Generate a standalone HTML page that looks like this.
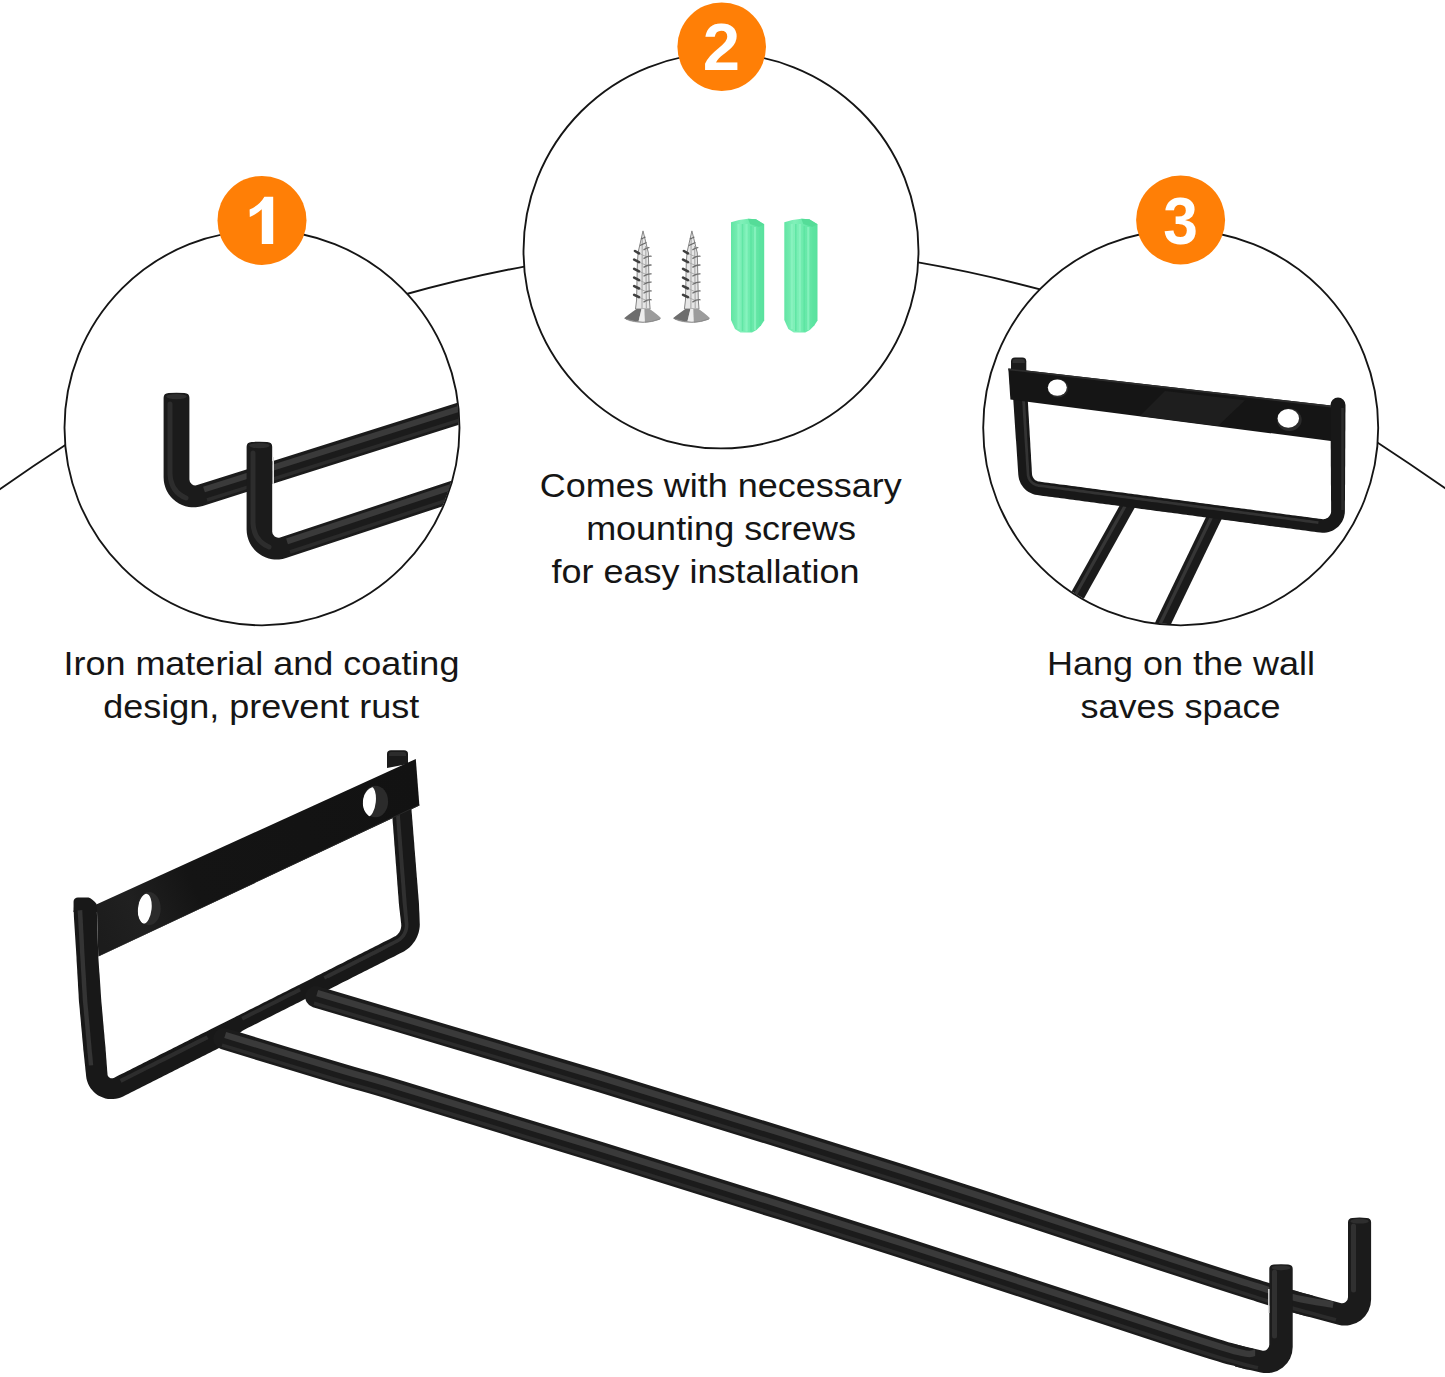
<!DOCTYPE html>
<html><head><meta charset="utf-8">
<style>
html,body{margin:0;padding:0;background:#fff;}
body{width:1445px;height:1377px;overflow:hidden;font-family:"Liberation Sans",sans-serif;}
svg{display:block;position:absolute;left:0;top:0;}
text{font-family:"Liberation Sans",sans-serif;}
.t{font-size:36px;fill:#151515;text-anchor:middle;}
.n{font-size:67px;font-weight:bold;fill:#fff;text-anchor:middle;}
</style></head><body>
<svg width="1445" height="1377" viewBox="0 0 1445 1377">
<defs>
<clipPath id="c1"><circle cx="262" cy="427.8" r="196.7"/></clipPath>
<clipPath id="c3"><circle cx="1180.7" cy="427.8" r="196.7"/></clipPath>
<clipPath id="hR"><ellipse cx="375.5" cy="801.5" rx="12.6" ry="15.8"/></clipPath>
<clipPath id="hL"><ellipse cx="149.1" cy="908.6" rx="11.6" ry="16.6"/></clipPath>
<linearGradient id="barg" gradientUnits="userSpaceOnUse" x1="97" y1="930" x2="418" y2="782"><stop offset="0" stop-color="#1c1c1c"/><stop offset=".12" stop-color="#202020"/><stop offset=".3" stop-color="#141414"/><stop offset="1" stop-color="#121212"/></linearGradient>
<linearGradient id="scr" x1="0" x2="1" y1="0" y2="0"><stop offset="0" stop-color="#777"/><stop offset=".45" stop-color="#e8e8e8"/><stop offset="1" stop-color="#666"/></linearGradient>
<linearGradient id="grn" x1="0" x2="1" y1="0" y2="0"><stop offset="0" stop-color="#62e5a4"/><stop offset=".3" stop-color="#80f0b9"/><stop offset=".6" stop-color="#6beaab"/><stop offset="1" stop-color="#58e19d"/></linearGradient>
</defs>
<rect width="1445" height="1377" fill="#fff"/>

<!-- big connecting arc -->
<path d="M-3 491.2 Q32 466.5 68 443.2 M403 295 Q465.3 277.5 528 265.8 M914 261.7 Q979.3 273 1043 290.2 M1374 440.2 Q1412 465 1448 490.3" fill="none" stroke="#151515" stroke-width="1.85"/>

<!-- SECTION: circles -->
<circle cx="262" cy="427.8" r="197.5" fill="#fff" stroke="#151515" stroke-width="1.85"/>
<circle cx="721" cy="250.9" r="197.5" fill="#fff" stroke="#151515" stroke-width="1.85"/>
<circle cx="1180.7" cy="427.8" r="197.5" fill="#fff" stroke="#151515" stroke-width="1.85"/>

<!-- SECTION: circle1 content -->
<g id="c1content" clip-path="url(#c1)">
<path d="M163.6 397.8 L163.6 477.3 A30.0 30.0 0 0 0 202.7 505.9 L480.0 418.2 L480.0 395.6 L197.2 485.1 A6.0 6.0 0 0 1 189.4 479.4 L189.4 397.8 Q189.4 393.4 184.4 393.1 Q176.5 392.2 168.6 393.1 Q163.6 393.4 163.6 397.8 Z" fill="#1b1b1b"/>
<path d="M204 489.5 L480 402.2" fill="none" stroke="#3a3a3a" stroke-width="6"/>
<path d="M207 500 L480 413.6" fill="none" stroke="#2b2b2b" stroke-width="3.5"/>
<path d="M170 404 L170 474 Q171 492 186 498" fill="none" stroke="#2d2d2d" stroke-width="5" stroke-linecap="round"/>
<ellipse cx="176.5" cy="396.6" rx="10.3" ry="2.6" fill="#2e2e2e"/>
<path d="M246.6 446.8 L246.6 529.6 A30.0 30.0 0 0 0 286.0 558.0 L480.0 494.0 L480.0 471.4 L280.1 537.4 A6.0 6.0 0 0 1 272.2 531.7 L272.2 446.8 Q272.2 442.4 267.2 442.1 Q259.4 441.2 251.6 442.1 Q246.6 442.4 246.6 446.8 Z" fill="#1b1b1b"/>
<path d="M287 541.3 L480 477.6" fill="none" stroke="#3a3a3a" stroke-width="6"/>
<path d="M290 552 L480 489.3" fill="none" stroke="#2b2b2b" stroke-width="3.5"/>
<path d="M253 453 L253 523 Q254 541 269 547" fill="none" stroke="#2d2d2d" stroke-width="5" stroke-linecap="round"/>
<ellipse cx="259.4" cy="445.6" rx="10.3" ry="2.6" fill="#2e2e2e"/>
<path d="M273.2 457 L273.2 484" fill="none" stroke="#e2e2e2" stroke-width="1.6"/>
</g>

<!-- SECTION: circle2 content -->
<g id="c2content">
<g id="screw">
<path d="M643 230.9 L646 243 L648.4 253 L649.4 300 L650.1 309 L635.5 309 L636.6 300 L637.4 262 L638.2 252 L640.5 242 Z" fill="#e6e6e6" stroke="#858585" stroke-width="1"/>
<path d="M642.2 238 L642 308 M645.8 246 L646.3 308" stroke="#9a9a9a" stroke-width="0.9" fill="none"/>
<path d="M638.5 253.2 L647.5 257.2 M638.5 261.9 L647.5 265.9 M638.5 271.1 L647.5 275.1 M638.5 279.9 L647.5 283.9 M638.5 288.3 L647.5 292.3 M638.5 297.0 L647.5 301.0 " stroke="#a5a5a5" stroke-width="0.9" fill="none"/>
<path d="M643.5 249.9 Q648.0 247.1 649.4 247.6 M643.5 258.6 Q648.0 255.8 651.6 256.3 M643.5 267.4 Q648.0 264.6 651.6 265.1 M643.5 276.2 Q648.0 273.4 651.6 273.9 M643.5 284.5 Q648.0 281.7 651.6 282.2 M643.5 293.3 Q648.0 290.5 651.6 291.0 M643.5 302.1 Q648.0 299.3 651.6 299.8 " stroke="#6f6f6f" stroke-width="1.3" fill="none"/>
<path d="M635.0 251.0 L639.0 253.4 M634.2 259.7 L639.0 262.1 M634.2 268.9 L639.0 271.3 M634.2 277.7 L639.0 280.1 M634.2 286.1 L639.0 288.5 M634.2 294.8 L639.0 297.2 " stroke="#3f3f3f" stroke-width="2.6" fill="none" stroke-linecap="round"/>
<path d="M640 245.5 L646.5 242.5 M641 239 L645.5 237" stroke="#666" stroke-width="1.2" fill="none"/>
<path d="M624.2 318.3 Q627 315.8 636.5 309 L649.6 309 Q658 315 661 318.3 Q660 320.3 652 322 Q643 323.6 633 322 Q626 320.6 624.2 318.3 Z" fill="#c9c9c9"/>
<path d="M636.5 309 L641.5 309 L638.5 321.5 Q629 321 624.2 318.3 Q627 315.8 636.5 309 Z" fill="#6d6d6d"/>
<path d="M641.5 309 L644.5 309 L645 322.8 L638.5 321.5 Z" fill="#ededed"/>
<path d="M644.5 309 L649.6 309 Q658 315 661 318.3 Q658 321 645 322.8 Z" fill="#9c9c9c"/>
<path d="M626 319 Q643 325.5 660 319" stroke="#8a8a8a" stroke-width="1" fill="none"/>
</g>
<g transform="translate(48.9 0)">
<path d="M643 230.9 L646 243 L648.4 253 L649.4 300 L650.1 309 L635.5 309 L636.6 300 L637.4 262 L638.2 252 L640.5 242 Z" fill="#e6e6e6" stroke="#858585" stroke-width="1"/>
<path d="M642.2 238 L642 308 M645.8 246 L646.3 308" stroke="#9a9a9a" stroke-width="0.9" fill="none"/>
<path d="M638.5 253.2 L647.5 257.2 M638.5 261.9 L647.5 265.9 M638.5 271.1 L647.5 275.1 M638.5 279.9 L647.5 283.9 M638.5 288.3 L647.5 292.3 M638.5 297.0 L647.5 301.0 " stroke="#a5a5a5" stroke-width="0.9" fill="none"/>
<path d="M643.5 249.9 Q648.0 247.1 649.4 247.6 M643.5 258.6 Q648.0 255.8 651.6 256.3 M643.5 267.4 Q648.0 264.6 651.6 265.1 M643.5 276.2 Q648.0 273.4 651.6 273.9 M643.5 284.5 Q648.0 281.7 651.6 282.2 M643.5 293.3 Q648.0 290.5 651.6 291.0 M643.5 302.1 Q648.0 299.3 651.6 299.8 " stroke="#6f6f6f" stroke-width="1.3" fill="none"/>
<path d="M635.0 251.0 L639.0 253.4 M634.2 259.7 L639.0 262.1 M634.2 268.9 L639.0 271.3 M634.2 277.7 L639.0 280.1 M634.2 286.1 L639.0 288.5 M634.2 294.8 L639.0 297.2 " stroke="#3f3f3f" stroke-width="2.6" fill="none" stroke-linecap="round"/>
<path d="M640 245.5 L646.5 242.5 M641 239 L645.5 237" stroke="#666" stroke-width="1.2" fill="none"/>
<path d="M624.2 318.3 Q627 315.8 636.5 309 L649.6 309 Q658 315 661 318.3 Q660 320.3 652 322 Q643 323.6 633 322 Q626 320.6 624.2 318.3 Z" fill="#c9c9c9"/>
<path d="M636.5 309 L641.5 309 L638.5 321.5 Q629 321 624.2 318.3 Q627 315.8 636.5 309 Z" fill="#6d6d6d"/>
<path d="M641.5 309 L644.5 309 L645 322.8 L638.5 321.5 Z" fill="#ededed"/>
<path d="M644.5 309 L649.6 309 Q658 315 661 318.3 Q658 321 645 322.8 Z" fill="#9c9c9c"/>
<path d="M626 319 Q643 325.5 660 319" stroke="#8a8a8a" stroke-width="1" fill="none"/>
</g>
<g id="anchor">
<path d="M731 222.3 L739 220 L748 218.7 L756 219.3 L764.2 224.3 L764.2 320.5 L761 325.5 L756.5 330 L752 332.6 L740.5 332.6 L735 329 L731 320 Z" fill="url(#grn)"/>
<path d="M748 218.7 L756 219.3 L764.2 224.3 L759 227 L750 224 Z" fill="#55dc98"/>
<path d="M738.5 224 L738.5 329 M746.5 224 L746.5 331.5 M755 227 L755 330" stroke="#8cf4c2" stroke-width="2.2" fill="none" opacity=".8"/>
<path d="M742.5 224 L742.5 331 M751 226 L751 331.5 M760 228 L760 326" stroke="#5ae3a0" stroke-width="1.6" fill="none" opacity=".8"/>
</g>
<g transform="translate(53.3 0)">
<path d="M731 222.3 L739 220 L748 218.7 L756 219.3 L764.2 224.3 L764.2 320.5 L761 325.5 L756.5 330 L752 332.6 L740.5 332.6 L735 329 L731 320 Z" fill="url(#grn)"/>
<path d="M748 218.7 L756 219.3 L764.2 224.3 L759 227 L750 224 Z" fill="#55dc98"/>
<path d="M738.5 224 L738.5 329 M746.5 224 L746.5 331.5 M755 227 L755 330" stroke="#8cf4c2" stroke-width="2.2" fill="none" opacity=".8"/>
<path d="M742.5 224 L742.5 331 M751 226 L751 331.5 M760 228 L760 326" stroke="#5ae3a0" stroke-width="1.6" fill="none" opacity=".8"/>
</g>
</g>

<!-- SECTION: circle3 content -->
<g id="c3content" clip-path="url(#c3)">
<!-- rods -->
<path d="M1129.6 502.3 L1053.2 639" fill="none" stroke="#1b1b1b" stroke-width="14.2"/>
<path d="M1217 511.5 L1150.2 650" fill="none" stroke="#1b1b1b" stroke-width="15"/>
<path d="M1126.8 503 L1050.4 639.5" fill="none" stroke="#363636" stroke-width="3.2"/>
<path d="M1214 512 L1147.2 650.5" fill="none" stroke="#363636" stroke-width="3.2"/>
<!-- frame wire -->
<path d="M1013.2 398.5 L1013.4 401.5 L1013.6 404.6 L1013.8 407.6 L1014.0 410.7 L1014.2 413.7 L1014.4 416.8 L1014.6 419.8 L1014.8 422.9 L1015.0 425.9 L1015.2 429.0 L1015.4 432.1 L1015.6 435.1 L1015.8 438.2 L1016.1 441.2 L1016.3 444.3 L1016.5 447.3 L1016.7 450.4 L1016.9 453.4 L1017.1 456.5 L1017.3 459.6 L1017.5 462.6 L1017.7 465.7 L1017.9 468.7 L1018.1 471.8 L1018.3 474.8 L1018.6 477.1 L1019.1 479.4 L1019.9 481.6 L1020.8 483.7 L1022.0 485.6 L1023.4 487.5 L1025.0 489.2 L1026.7 490.7 L1028.6 492.0 L1030.7 493.1 L1032.8 494.0 L1035.0 494.7 L1037.3 495.1 L1040.3 495.5 L1043.2 495.9 L1046.2 496.3 L1049.2 496.7 L1052.2 497.1 L1055.1 497.4 L1058.1 497.8 L1061.1 498.2 L1064.1 498.6 L1067.1 499.0 L1070.0 499.4 L1073.0 499.8 L1076.0 500.2 L1079.0 500.6 L1081.9 501.0 L1084.9 501.4 L1087.9 501.8 L1090.9 502.2 L1093.9 502.6 L1096.8 503.0 L1099.8 503.4 L1102.8 503.8 L1105.8 504.2 L1108.7 504.6 L1111.7 504.9 L1114.7 505.3 L1117.7 505.7 L1120.6 506.1 L1123.6 506.5 L1126.6 506.9 L1129.6 507.3 L1132.6 507.7 L1135.5 508.1 L1138.5 508.5 L1141.5 508.9 L1144.5 509.3 L1147.4 509.7 L1150.4 510.1 L1153.4 510.5 L1156.4 510.9 L1159.4 511.3 L1162.3 511.7 L1165.3 512.1 L1168.3 512.4 L1171.3 512.8 L1174.2 513.2 L1177.2 513.6 L1180.2 514.0 L1183.2 514.4 L1186.2 514.8 L1189.1 515.2 L1192.1 515.6 L1195.1 516.0 L1198.1 516.4 L1201.0 516.8 L1204.0 517.2 L1207.0 517.6 L1210.0 518.0 L1212.9 518.4 L1215.9 518.8 L1218.9 519.2 L1221.9 519.6 L1224.9 519.9 L1227.8 520.3 L1230.8 520.7 L1233.8 521.1 L1236.8 521.5 L1239.7 521.9 L1242.7 522.3 L1245.7 522.7 L1248.7 523.1 L1251.7 523.5 L1254.6 523.9 L1257.6 524.3 L1260.6 524.7 L1263.6 525.1 L1266.5 525.5 L1269.5 525.9 L1272.5 526.3 L1275.5 526.7 L1278.5 527.1 L1281.4 527.5 L1284.4 527.8 L1287.4 528.2 L1290.4 528.6 L1293.3 529.0 L1296.3 529.4 L1299.3 529.8 L1302.3 530.2 L1305.2 530.6 L1308.2 531.0 L1311.2 531.4 L1314.2 531.8 L1317.2 532.2 L1320.1 532.6 L1322.3 532.8 L1324.5 532.7 L1326.7 532.5 L1328.8 532.0 L1330.9 531.3 L1332.9 530.4 L1334.8 529.3 L1336.5 528.1 L1338.2 526.7 L1339.7 525.1 L1341.0 523.3 L1342.2 521.5 L1343.1 519.5 L1343.9 517.4 L1344.4 515.3 L1344.8 513.2 L1344.9 511.0 L1344.9 507.9 L1344.9 504.9 L1344.9 501.9 L1345.0 498.9 L1345.0 495.8 L1345.0 492.8 L1345.0 489.8 L1345.0 486.7 L1345.1 483.7 L1345.1 480.7 L1345.1 477.7 L1345.1 474.6 L1345.1 471.6 L1345.1 468.6 L1345.2 465.6 L1345.2 462.5 L1345.2 459.5 L1345.2 456.5 L1345.2 453.4 L1345.2 450.4 L1345.3 447.4 L1345.3 444.4 L1345.3 441.3 L1345.3 438.3 L1345.3 435.3 L1345.3 432.2 L1345.4 429.2 L1345.4 426.2 L1345.4 423.2 L1345.4 420.1 L1345.4 417.1 L1345.4 414.1 L1345.5 411.1 L1345.5 408.0 L1345.5 405.0 A7.5 7.5 0 0 0 1330.5 405.0 L1330.5 405.0 L1330.5 408.0 L1330.5 411.1 L1330.6 414.1 L1330.6 417.1 L1330.6 420.1 L1330.6 423.2 L1330.6 426.2 L1330.6 429.2 L1330.7 432.2 L1330.7 435.3 L1330.7 438.3 L1330.7 441.3 L1330.7 444.4 L1330.7 447.4 L1330.8 450.4 L1330.8 453.4 L1330.8 456.5 L1330.8 459.5 L1330.8 462.5 L1330.8 465.6 L1330.9 468.6 L1330.9 471.6 L1330.9 474.6 L1330.9 477.7 L1330.9 480.7 L1330.9 483.7 L1331.0 486.7 L1331.0 489.8 L1331.0 492.8 L1331.0 495.8 L1331.0 498.9 L1331.1 501.9 L1331.1 504.9 L1331.1 507.9 L1331.1 511.0 L1331.1 511.8 L1331.0 512.6 L1330.8 513.4 L1330.5 514.1 L1330.1 514.9 L1329.7 515.6 L1329.2 516.2 L1328.7 516.8 L1328.1 517.4 L1327.4 517.9 L1326.7 518.3 L1326.0 518.6 L1325.2 518.9 L1324.4 519.1 L1323.6 519.2 L1322.7 519.2 L1321.9 519.1 L1318.9 518.7 L1316.0 518.3 L1313.0 517.9 L1310.0 517.5 L1307.0 517.1 L1304.1 516.7 L1301.1 516.3 L1298.1 515.9 L1295.1 515.5 L1292.1 515.2 L1289.2 514.8 L1286.2 514.4 L1283.2 514.0 L1280.2 513.6 L1277.3 513.2 L1274.3 512.8 L1271.3 512.4 L1268.3 512.0 L1265.4 511.6 L1262.4 511.2 L1259.4 510.8 L1256.4 510.4 L1253.4 510.0 L1250.5 509.6 L1247.5 509.2 L1244.5 508.8 L1241.5 508.4 L1238.6 508.0 L1235.6 507.7 L1232.6 507.3 L1229.6 506.9 L1226.6 506.5 L1223.7 506.1 L1220.7 505.7 L1217.7 505.3 L1214.7 504.9 L1211.8 504.5 L1208.8 504.1 L1205.8 503.7 L1202.8 503.3 L1199.8 502.9 L1196.9 502.5 L1193.9 502.1 L1190.9 501.7 L1187.9 501.3 L1185.0 500.9 L1182.0 500.5 L1179.0 500.1 L1176.0 499.8 L1173.1 499.4 L1170.1 499.0 L1167.1 498.6 L1164.1 498.2 L1161.1 497.8 L1158.2 497.4 L1155.2 497.0 L1152.2 496.6 L1149.2 496.2 L1146.3 495.8 L1143.3 495.4 L1140.3 495.0 L1137.3 494.6 L1134.3 494.2 L1131.4 493.8 L1128.4 493.4 L1125.4 493.0 L1122.4 492.6 L1119.5 492.3 L1116.5 491.9 L1113.5 491.5 L1110.5 491.1 L1107.5 490.7 L1104.6 490.3 L1101.6 489.9 L1098.6 489.5 L1095.6 489.1 L1092.7 488.7 L1089.7 488.3 L1086.7 487.9 L1083.7 487.5 L1080.8 487.1 L1077.8 486.7 L1074.8 486.3 L1071.8 485.9 L1068.8 485.5 L1065.9 485.1 L1062.9 484.8 L1059.9 484.4 L1056.9 484.0 L1054.0 483.6 L1051.0 483.2 L1048.0 482.8 L1045.0 482.4 L1042.0 482.0 L1039.1 481.6 L1038.2 481.4 L1037.4 481.2 L1036.6 480.8 L1035.8 480.4 L1035.1 479.9 L1034.5 479.4 L1033.9 478.7 L1033.4 478.0 L1032.9 477.3 L1032.6 476.5 L1032.3 475.7 L1032.1 474.8 L1032.0 474.0 L1031.8 470.9 L1031.7 467.9 L1031.5 464.8 L1031.3 461.7 L1031.1 458.7 L1031.0 455.6 L1030.8 452.6 L1030.6 449.5 L1030.4 446.5 L1030.3 443.4 L1030.1 440.3 L1029.9 437.3 L1029.7 434.2 L1029.6 431.2 L1029.4 428.1 L1029.2 425.1 L1029.0 422.0 L1028.9 418.9 L1028.7 415.9 L1028.5 412.8 L1028.3 409.8 L1028.2 406.7 L1028.0 403.7 L1027.8 400.6 L1027.6 397.5 Z" fill="#181818"/>
<path d="M1022.0 397.9 L1022.2 401.0 L1022.4 404.0 L1022.6 407.1 L1022.7 410.1 L1022.9 413.2 L1023.1 416.2 L1023.3 419.3 L1023.5 422.4 L1023.7 425.4 L1023.9 428.5 L1024.1 431.5 L1024.2 434.6 L1024.4 437.6 L1024.6 440.7 L1024.8 443.7 L1025.0 446.8 L1025.2 449.9 L1025.4 452.9 L1025.6 456.0 L1025.7 459.0 L1025.9 462.1 L1026.1 465.1 L1026.3 468.2 L1026.5 471.3 L1026.7 474.3 L1026.8 475.7 L1027.2 477.1 L1027.6 478.5 L1028.2 479.8 L1028.9 481.0 L1029.8 482.1 L1030.8 483.2 L1031.9 484.1 L1033.0 484.9 L1034.3 485.6 L1035.6 486.2 L1037.0 486.6 L1038.4 486.9 L1041.3 487.2 L1044.3 487.6 L1047.3 488.0 L1050.3 488.4 L1053.3 488.8 L1056.2 489.2 L1059.2 489.6 L1062.2 490.0 L1065.2 490.4 L1068.1 490.8 L1071.1 491.2 L1074.1 491.6 L1077.1 492.0 L1080.0 492.4 L1083.0 492.8 L1086.0 493.2 L1089.0 493.6 L1092.0 494.0 L1094.9 494.4 L1097.9 494.7 L1100.9 495.1 L1103.9 495.5 L1106.8 495.9 L1109.8 496.3 L1112.8 496.7 L1115.8 497.1 L1118.7 497.5 L1121.7 497.9 L1124.7 498.3 L1127.7 498.7 L1130.7 499.1 L1133.6 499.5 L1136.6 499.9 L1139.6 500.3 L1142.6 500.7 L1145.5 501.1 L1148.5 501.5 L1151.5 501.9 L1154.5 502.2 L1157.4 502.6 L1160.4 503.0 L1163.4 503.4 L1166.4 503.8 L1169.4 504.2 L1172.3 504.6 L1175.3 505.0 L1178.3 505.4 L1181.3 505.8 L1184.2 506.2 L1187.2 506.6 L1190.2 507.0 L1193.2 507.4 L1196.1 507.8 L1199.1 508.2 L1202.1 508.6 L1205.1 509.0 L1208.1 509.4 L1211.0 509.7 L1214.0 510.1 L1217.0 510.5 L1220.0 510.9 L1222.9 511.3 L1225.9 511.7 L1228.9 512.1 L1231.9 512.5 L1234.8 512.9 L1237.8 513.3 L1240.8 513.7 L1243.8 514.1 L1246.8 514.5 L1249.7 514.9 L1252.7 515.3 L1255.7 515.7 L1258.7 516.1 L1261.6 516.5 L1264.6 516.9 L1267.6 517.2 L1270.6 517.6 L1273.5 518.0 L1276.5 518.4 L1279.5 518.8 L1282.5 519.2 L1285.5 519.6 L1288.4 520.0 L1291.4 520.4 L1294.4 520.8 L1297.4 521.2 L1300.3 521.6 L1303.3 522.0 L1306.3 522.4 L1309.3 522.8 L1312.2 523.2 L1315.2 523.6 L1318.2 524.0 L1318.6 521.3 L1315.6 520.9 L1312.6 520.5 L1309.6 520.1 L1306.6 519.7 L1303.7 519.3 L1300.7 518.9 L1297.7 518.5 L1294.7 518.1 L1291.8 517.7 L1288.8 517.3 L1285.8 516.9 L1282.8 516.5 L1279.9 516.1 L1276.9 515.7 L1273.9 515.3 L1270.9 514.9 L1267.9 514.6 L1265.0 514.2 L1262.0 513.8 L1259.0 513.4 L1256.0 513.0 L1253.1 512.6 L1250.1 512.2 L1247.1 511.8 L1244.1 511.4 L1241.2 511.0 L1238.2 510.6 L1235.2 510.2 L1232.2 509.8 L1229.2 509.4 L1226.3 509.0 L1223.3 508.6 L1220.3 508.2 L1217.3 507.8 L1214.4 507.4 L1211.4 507.1 L1208.4 506.7 L1205.4 506.3 L1202.5 505.9 L1199.5 505.5 L1196.5 505.1 L1193.5 504.7 L1190.5 504.3 L1187.6 503.9 L1184.6 503.5 L1181.6 503.1 L1178.6 502.7 L1175.7 502.3 L1172.7 501.9 L1169.7 501.5 L1166.7 501.1 L1163.8 500.7 L1160.8 500.3 L1157.8 499.9 L1154.8 499.6 L1151.8 499.2 L1148.9 498.8 L1145.9 498.4 L1142.9 498.0 L1139.9 497.6 L1137.0 497.2 L1134.0 496.8 L1131.0 496.4 L1128.0 496.0 L1125.1 495.6 L1122.1 495.2 L1119.1 494.8 L1116.1 494.4 L1113.2 494.0 L1110.2 493.6 L1107.2 493.2 L1104.2 492.8 L1101.2 492.4 L1098.3 492.1 L1095.3 491.7 L1092.3 491.3 L1089.3 490.9 L1086.4 490.5 L1083.4 490.1 L1080.4 489.7 L1077.4 489.3 L1074.5 488.9 L1071.5 488.5 L1068.5 488.1 L1065.5 487.7 L1062.5 487.3 L1059.6 486.9 L1056.6 486.5 L1053.6 486.1 L1050.6 485.7 L1047.7 485.3 L1044.7 484.9 L1041.7 484.6 L1038.7 484.2 L1037.6 483.9 L1036.5 483.6 L1035.5 483.2 L1034.5 482.6 L1033.5 482.0 L1032.7 481.2 L1031.9 480.4 L1031.2 479.5 L1030.6 478.5 L1030.2 477.5 L1029.8 476.4 L1029.5 475.3 L1029.4 474.1 L1029.2 471.1 L1029.1 468.0 L1028.9 465.0 L1028.7 461.9 L1028.5 458.9 L1028.3 455.8 L1028.2 452.7 L1028.0 449.7 L1027.8 446.6 L1027.6 443.6 L1027.4 440.5 L1027.2 437.5 L1027.1 434.4 L1026.9 431.3 L1026.7 428.3 L1026.5 425.2 L1026.3 422.2 L1026.2 419.1 L1026.0 416.1 L1025.8 413.0 L1025.6 409.9 L1025.4 406.9 L1025.2 403.8 L1025.1 400.8 L1024.9 397.7 Z" fill="#333"/>
<path d="M1342.5 408 L1342.5 510" fill="none" stroke="#2c2c2c" stroke-width="2.5"/>
<!-- tab -->
<path d="M1011 371 L1011 361.5 Q1011 357.4 1015 357.4 L1022.3 357.4 Q1026.3 357.4 1026.3 361.5 L1026.3 371 Z" fill="#1b1b1b"/>
<path d="M1012.5 361 Q1012.5 359 1015 359 L1022.3 359 Q1024.8 359 1024.8 361 L1024.8 363 L1012.5 363 Z" fill="#303030"/>
<!-- bar -->
<path d="M1008.3 368.4 L1331 405.6 L1331 441 L1010.4 399.6 Z" fill="#151515"/>
<path d="M1008.3 368.4 L1331 405.6 L1331 407.4 L1008.4 370.2 Z" fill="#2c2c2c"/>
<path d="M1165 391 L1245 400.2 L1218 426 L1140 416 Z" fill="#1e1e1e"/>
<ellipse cx="1058" cy="388.3" rx="10.3" ry="9.2" fill="#2b2b2b"/>
<ellipse cx="1057.3" cy="387.6" rx="9.5" ry="8.2" fill="#fff"/>
<ellipse cx="1289.3" cy="419.8" rx="12.4" ry="11.2" fill="#2b2b2b"/>
<ellipse cx="1288.3" cy="418.4" rx="10.7" ry="9.3" fill="#fff"/>
</g>

<!-- SECTION: badges -->
<circle cx="262" cy="220.4" r="44.5" fill="#ff7f06"/>
<circle cx="721.7" cy="46.8" r="44.3" fill="#ff7f06"/>
<circle cx="1180.6" cy="220" r="44.5" fill="#ff7f06"/>
<path d="M273.2 196.8 L273.2 244 L261.8 244 L261.8 209.3 Q256.5 214.3 249.8 216.9 L249.6 209.6 Q259.8 205 264.4 196.8 Z" fill="#fff"/>
<text class="n" x="721.5" y="70">2</text>
<text class="n" transform="translate(1180.6 244) scale(0.93 1)">3</text>

<!-- SECTION: text -->
<text class="t" transform="translate(261.4 675.1) scale(1 0.935)">Iron material and coating</text>
<text class="t" transform="translate(261.2 717.7) scale(1 0.935)">design, prevent rust</text>
<text class="t" transform="translate(720.7 496.5) scale(1 0.935)">Comes with necessary</text>
<text class="t" transform="translate(721.1 540) scale(1 0.935)">mounting screws</text>
<text class="t" transform="translate(705.5 583.4) scale(1 0.935)">for easy installation</text>
<text class="t" transform="translate(1180.9 675) scale(1 0.935)">Hang on the wall</text>
<text class="t" transform="translate(1180.5 717.5) scale(1 0.935)">saves space</text>

<!-- SECTION: main product -->
<g id="main">
<!-- tab top right -->
<path d="M387 768 L387 754 Q387 750.3 391 750.3 L404 750.3 Q408 750.3 408 754 L408 764 Z" fill="#1a1a1a"/>
<path d="M389 753.5 Q389 752 391 752 L404 752 Q406 752 406 753.5 L406 756 L389 756 Z" fill="#2c2c2c"/>
<!-- frame wire -->
<path d="M73.6 910.5 L73.8 913.7 L73.9 916.8 L74.1 919.9 L74.3 923.1 L74.5 926.2 L74.7 929.3 L74.9 932.5 L75.1 935.6 L75.3 938.7 L75.5 941.9 L75.7 945.0 L75.9 948.1 L76.1 951.2 L76.3 954.4 L76.5 957.5 L76.5 957.7 L76.6 960.7 L76.8 963.8 L77.0 966.9 L77.2 970.0 L77.3 973.0 L77.5 976.1 L77.7 979.2 L77.9 982.3 L78.0 985.3 L78.2 988.4 L78.4 991.5 L78.6 994.5 L78.7 997.6 L78.9 1000.7 L78.9 1001.0 L79.2 1004.0 L79.5 1007.0 L79.8 1010.1 L80.0 1013.1 L80.3 1016.1 L80.6 1019.1 L80.9 1022.2 L81.1 1025.2 L81.4 1028.2 L81.7 1031.2 L82.0 1034.3 L82.2 1037.3 L82.5 1040.3 L82.8 1043.3 L83.1 1046.4 L83.3 1049.4 L83.3 1049.4 L83.7 1052.7 L84.0 1056.1 L84.4 1059.4 L84.7 1062.7 L85.1 1066.1 L85.4 1069.4 L85.8 1072.7 L86.1 1076.1 L86.5 1078.7 L87.2 1081.2 L88.1 1083.7 L89.2 1086.0 L90.6 1088.2 L92.3 1090.3 L94.1 1092.2 L96.1 1093.9 L98.2 1095.4 L100.5 1096.6 L102.9 1097.6 L105.4 1098.4 L108.0 1098.9 L110.6 1099.1 L113.2 1099.1 L115.8 1098.8 L118.3 1098.3 L120.8 1097.5 L123.1 1096.4 L125.9 1095.0 L128.6 1093.7 L131.3 1092.3 L134.0 1090.9 L136.8 1089.5 L139.5 1088.2 L142.2 1086.8 L144.9 1085.4 L147.7 1084.0 L150.4 1082.7 L153.1 1081.3 L155.8 1079.9 L158.6 1078.6 L161.3 1077.2 L164.0 1075.8 L166.7 1074.4 L169.5 1073.1 L172.2 1071.7 L174.9 1070.3 L177.6 1068.9 L180.3 1067.6 L183.1 1066.2 L185.8 1064.8 L188.5 1063.4 L191.2 1062.1 L194.0 1060.7 L196.7 1059.3 L199.4 1057.9 L202.1 1056.6 L204.9 1055.2 L207.6 1053.8 L210.3 1052.4 L213.0 1051.1 L215.8 1049.7 L218.5 1048.3 L221.2 1046.9 L222.0 1046.5 L224.7 1044.4 L227.4 1042.4 L230.1 1040.3 L232.8 1038.3 L235.5 1036.2 L238.2 1034.2 L240.9 1032.1 L243.6 1030.1 L243.0 1030.4 L245.7 1029.0 L248.5 1027.6 L251.3 1026.2 L254.1 1024.8 L256.9 1023.4 L259.7 1022.0 L262.4 1020.6 L265.2 1019.2 L268.0 1017.8 L270.8 1016.4 L273.6 1015.0 L276.4 1013.6 L279.1 1012.2 L281.9 1010.8 L284.7 1009.4 L287.5 1008.0 L290.3 1006.6 L293.1 1005.2 L295.8 1003.8 L298.6 1002.4 L301.4 1001.0 L304.2 999.6 L307.0 998.2 L306.6 998.4 L309.8 997.2 L312.9 996.0 L316.0 994.8 L319.2 993.5 L322.3 992.3 L325.5 991.1 L325.9 990.9 L328.6 989.6 L331.3 988.2 L334.1 986.8 L336.8 985.4 L339.5 984.0 L342.3 982.6 L345.0 981.3 L347.7 979.9 L350.5 978.5 L353.2 977.1 L355.9 975.7 L358.7 974.3 L361.4 973.0 L364.1 971.6 L366.9 970.2 L369.6 968.8 L372.3 967.4 L375.1 966.0 L377.8 964.7 L380.5 963.3 L383.3 961.9 L386.0 960.5 L388.7 959.1 L391.5 957.8 L394.2 956.4 L396.9 955.0 L399.7 953.6 L402.4 952.2 L404.3 951.2 L406.0 950.0 L407.8 948.8 L409.4 947.4 L410.9 945.9 L412.4 944.3 L413.7 942.6 L414.9 940.9 L416.0 939.0 L417.0 937.1 L417.8 935.1 L418.5 933.1 L419.0 931.0 L419.4 928.9 L419.7 926.7 L419.8 924.5 L419.7 922.4 L419.6 919.3 L419.5 916.3 L419.4 913.3 L419.2 910.3 L419.1 907.3 L419.0 904.2 L419.0 904.2 L418.8 901.2 L418.5 898.1 L418.3 895.1 L418.0 892.0 L417.8 889.0 L417.6 885.9 L417.3 882.8 L417.1 879.8 L416.8 876.7 L416.6 873.7 L416.3 870.6 L416.1 867.6 L415.9 864.5 L415.6 861.5 L415.4 858.4 L415.1 855.3 L414.9 852.3 L414.6 849.2 L414.4 846.2 L414.2 843.1 L413.9 840.1 L413.7 837.0 L413.4 834.0 L413.2 830.9 L413.0 827.9 L412.7 824.8 L412.5 821.7 L412.2 818.7 L412.0 815.6 L411.7 812.6 L411.5 809.5 L411.3 806.5 L411.0 803.4 L410.8 800.4 L410.5 797.3 L410.3 794.2 L390.8 795.8 L391.0 798.8 L391.2 801.9 L391.4 804.9 L391.7 808.0 L391.9 811.0 L392.1 814.1 L392.4 817.1 L392.6 820.2 L392.8 823.3 L393.1 826.3 L393.3 829.4 L393.5 832.4 L393.8 835.5 L394.0 838.5 L394.2 841.6 L394.4 844.7 L394.7 847.7 L394.9 850.8 L395.1 853.8 L395.4 856.9 L395.6 859.9 L395.8 863.0 L396.1 866.0 L396.3 869.1 L396.5 872.2 L396.8 875.2 L397.0 878.3 L397.2 881.3 L397.4 884.4 L397.7 887.4 L397.9 890.5 L398.1 893.5 L398.4 896.6 L398.6 899.7 L398.8 902.7 L399.1 905.8 L399.1 905.8 L399.4 908.8 L399.8 911.8 L400.1 914.8 L400.5 917.8 L400.8 920.8 L401.2 923.8 L401.2 924.7 L401.3 925.6 L401.2 926.5 L401.1 927.3 L400.9 928.2 L400.7 929.1 L400.4 929.9 L400.1 930.8 L399.7 931.6 L399.2 932.4 L398.7 933.1 L398.1 933.8 L397.5 934.5 L396.8 935.1 L396.1 935.7 L395.3 936.2 L394.5 936.6 L391.8 938.0 L389.0 939.4 L386.3 940.8 L383.6 942.1 L380.8 943.5 L378.1 944.9 L375.4 946.3 L372.6 947.7 L369.9 949.1 L367.2 950.4 L364.4 951.8 L361.7 953.2 L359.0 954.6 L356.2 956.0 L353.5 957.3 L350.8 958.7 L348.0 960.1 L345.3 961.5 L342.6 962.9 L339.8 964.3 L337.1 965.6 L334.4 967.0 L331.6 968.4 L328.9 969.8 L326.2 971.2 L323.4 972.6 L320.7 973.9 L318.0 975.3 L318.4 975.1 L315.4 976.6 L312.4 978.2 L309.4 979.7 L306.4 981.2 L303.4 982.7 L300.3 984.2 L300.0 984.4 L297.2 985.8 L294.4 987.2 L291.7 988.6 L288.9 990.0 L286.1 991.4 L283.3 992.8 L280.5 994.2 L277.7 995.6 L275.0 997.0 L272.2 998.4 L269.4 999.8 L266.6 1001.2 L263.8 1002.6 L261.0 1004.0 L258.3 1005.4 L255.5 1006.8 L252.7 1008.2 L249.9 1009.6 L247.1 1011.0 L244.3 1012.4 L241.6 1013.8 L238.8 1015.2 L236.0 1016.6 L235.4 1016.9 L232.3 1018.4 L229.3 1020.0 L226.3 1021.5 L223.3 1023.0 L220.2 1024.5 L217.2 1026.1 L214.2 1027.6 L211.2 1029.1 L212.0 1028.6 L209.3 1030.0 L206.5 1031.4 L203.8 1032.7 L201.1 1034.1 L198.4 1035.5 L195.6 1036.8 L192.9 1038.2 L190.2 1039.6 L187.5 1040.9 L184.7 1042.3 L182.0 1043.7 L179.3 1045.0 L176.5 1046.4 L173.8 1047.8 L171.1 1049.2 L168.4 1050.5 L165.6 1051.9 L162.9 1053.3 L160.2 1054.6 L157.5 1056.0 L154.7 1057.4 L152.0 1058.7 L149.3 1060.1 L146.5 1061.5 L143.8 1062.8 L141.1 1064.2 L138.4 1065.6 L135.6 1066.9 L132.9 1068.3 L130.2 1069.7 L127.5 1071.0 L124.7 1072.4 L122.0 1073.8 L119.3 1075.1 L116.5 1076.5 L113.8 1077.9 L113.4 1078.1 L112.9 1078.2 L112.5 1078.3 L112.0 1078.3 L111.5 1078.3 L111.1 1078.3 L110.6 1078.2 L110.2 1078.0 L109.8 1077.8 L109.4 1077.6 L109.0 1077.3 L108.7 1077.0 L108.4 1076.6 L108.1 1076.2 L107.9 1075.8 L107.7 1075.4 L107.6 1075.0 L107.5 1074.6 L107.5 1074.1 L107.2 1070.8 L107.0 1067.4 L106.7 1064.1 L106.5 1060.8 L106.2 1057.4 L106.0 1054.1 L105.7 1050.7 L105.5 1047.4 L105.5 1047.4 L105.2 1044.4 L104.9 1041.4 L104.6 1038.3 L104.4 1035.3 L104.1 1032.3 L103.8 1029.3 L103.6 1026.2 L103.3 1023.2 L103.0 1020.2 L102.8 1017.2 L102.5 1014.1 L102.2 1011.1 L102.0 1008.1 L101.7 1005.1 L101.4 1002.0 L101.2 999.0 L101.2 999.3 L101.0 996.2 L100.8 993.2 L100.6 990.1 L100.4 987.0 L100.2 984.0 L100.0 980.9 L99.8 977.8 L99.6 974.7 L99.3 971.7 L99.1 968.6 L98.9 965.5 L98.7 962.5 L98.5 959.4 L98.3 956.3 L98.3 956.5 L98.2 953.4 L98.1 950.2 L98.0 947.1 L97.9 943.9 L97.8 940.8 L97.7 937.7 L97.6 934.5 L97.5 931.4 L97.4 928.3 L97.3 925.1 L97.2 922.0 L97.1 918.9 L97.0 915.7 L96.9 912.6 L96.8 909.5 Z" fill="#181818"/>
<path d="M73.5 912 L73.6 901 Q74.3 897.6 78 897.4 L88.5 897.6 Q92 898.5 97 904.5 L97 912 Z" fill="#181818"/>
<path d="M77.6 910.4 L77.8 913.5 L78.0 916.6 L78.2 919.7 L78.3 922.9 L78.5 926.0 L78.7 929.1 L78.9 932.3 L79.1 935.4 L79.2 938.5 L79.4 941.7 L79.6 944.8 L79.8 947.9 L79.9 951.1 L80.1 954.2 L80.3 957.3 L80.3 957.4 L80.5 960.5 L80.7 963.6 L80.8 966.7 L81.0 969.7 L81.2 972.8 L81.4 975.9 L81.6 978.9 L81.7 982.0 L81.9 985.1 L82.1 988.2 L82.3 991.2 L82.5 994.3 L82.6 997.4 L82.8 1000.4 L82.8 1000.6 L83.1 1003.7 L83.4 1006.7 L83.7 1009.7 L83.9 1012.7 L84.2 1015.8 L84.5 1018.8 L84.7 1021.8 L85.0 1024.8 L85.3 1027.9 L85.6 1030.9 L85.8 1033.9 L86.1 1036.9 L86.4 1040.0 L86.7 1043.0 L86.9 1046.0 L87.2 1049.0 L87.2 1049.0 L87.5 1052.4 L87.9 1055.7 L88.2 1059.0 L88.5 1062.3 L88.8 1065.6 L93.2 1065.2 L92.9 1061.9 L92.6 1058.6 L92.3 1055.3 L91.9 1052.0 L91.6 1048.6 L91.6 1048.6 L91.4 1045.6 L91.1 1042.6 L90.8 1039.6 L90.5 1036.5 L90.3 1033.5 L90.0 1030.5 L89.7 1027.5 L89.5 1024.4 L89.2 1021.4 L88.9 1018.4 L88.6 1015.4 L88.4 1012.3 L88.1 1009.3 L87.8 1006.3 L87.5 1003.3 L87.3 1000.2 L87.3 1000.2 L87.1 997.1 L86.9 994.0 L86.7 991.0 L86.5 987.9 L86.3 984.8 L86.2 981.7 L86.0 978.7 L85.8 975.6 L85.6 972.5 L85.4 969.5 L85.2 966.4 L85.0 963.3 L84.9 960.2 L84.7 957.2 L84.7 957.1 L84.5 954.0 L84.3 950.9 L84.2 947.7 L84.0 944.6 L83.9 941.5 L83.7 938.3 L83.6 935.2 L83.4 932.1 L83.2 928.9 L83.1 925.8 L82.9 922.7 L82.8 919.5 L82.6 916.4 L82.4 913.3 L82.3 910.1 Z" fill="#343434"/>
<path d="M121.5 1082.8 L126.9 1080.0 L132.3 1077.3 L137.8 1074.6 L143.2 1071.8 L148.6 1069.1 L154.1 1066.4 L159.5 1063.6 L165.0 1060.9 L170.4 1058.2 L175.8 1055.4 L181.3 1052.7 L186.7 1050.0 L192.1 1047.2 L197.6 1044.5 L203.0 1041.8 L208.5 1039.0 L206.6 1035.4 L201.2 1038.1 L195.7 1040.8 L190.3 1043.6 L184.9 1046.3 L179.4 1049.0 L174.0 1051.8 L168.5 1054.5 L163.1 1057.2 L157.7 1060.0 L152.2 1062.7 L146.8 1065.4 L141.4 1068.2 L135.9 1070.9 L130.5 1073.7 L125.0 1076.4 L119.6 1079.1 Z" fill="#2d2d2d"/>
<path d="M243.0 1020.4 L248.8 1017.5 L254.6 1014.6 L260.4 1011.7 L266.2 1008.8 L272.0 1005.8 L277.8 1002.9 L283.6 1000.0 L289.4 997.1 L295.2 994.2 L301.0 991.3 L299.2 987.8 L293.4 990.7 L287.6 993.6 L281.8 996.6 L276.0 999.5 L270.2 1002.4 L264.4 1005.3 L258.6 1008.2 L252.8 1011.1 L247.0 1014.1 L241.2 1017.0 Z" fill="#2d2d2d"/>
<path d="M328.2 978.2 L333.7 975.4 L339.1 972.7 L344.6 969.9 L350.0 967.2 L355.4 964.4 L360.9 961.6 L366.3 958.9 L371.8 956.1 L377.2 953.4 L382.7 950.6 L388.1 947.8 L386.4 944.5 L381.0 947.3 L375.5 950.0 L370.1 952.8 L364.6 955.5 L359.2 958.3 L353.7 961.0 L348.3 963.8 L342.8 966.5 L337.4 969.3 L331.9 972.0 L326.5 974.8 Z" fill="#2d2d2d"/>
<path d="M325.1 979.4 L327.7 978.0 L330.4 976.7 L333.1 975.3 L335.8 974.0 L338.5 972.6 L341.2 971.2 L343.9 969.9 L346.5 968.5 L349.2 967.2 L351.9 965.8 L354.6 964.4 L357.3 963.1 L360.0 961.7 L362.7 960.4 L365.3 959.0 L368.0 957.7 L370.7 956.3 L373.4 954.9 L376.1 953.6 L378.8 952.2 L381.5 950.9 L384.1 949.5 L386.8 948.1 L389.5 946.8 L392.2 945.4 L394.9 944.1 L397.6 942.7 L398.8 942.0 L400.0 941.3 L401.1 940.4 L402.1 939.5 L403.1 938.5 L404.0 937.5 L404.9 936.4 L405.6 935.2 L406.3 934.0 L406.9 932.7 L407.4 931.4 L407.8 930.1 L408.1 928.8 L408.3 927.4 L408.4 926.0 L408.5 924.6 L408.4 923.2 L408.1 920.2 L407.9 917.2 L407.6 914.2 L407.4 911.2 L407.1 908.2 L406.8 905.2 L406.8 905.2 L406.6 902.2 L406.4 899.2 L406.1 896.2 L405.9 893.2 L405.7 890.2 L405.5 887.2 L405.2 884.2 L405.0 881.2 L404.8 878.2 L404.5 875.2 L404.3 872.2 L404.1 869.2 L403.8 866.2 L403.6 863.2 L403.4 860.2 L403.1 857.2 L402.9 854.2 L402.7 851.2 L402.5 848.2 L402.2 845.2 L402.0 842.2 L401.8 839.2 L401.5 836.2 L401.3 833.2 L401.1 830.2 L400.8 827.2 L400.6 824.2 L400.4 821.2 L400.1 818.2 L399.9 815.2 L399.7 812.2 L395.8 812.5 L396.0 815.5 L396.2 818.5 L396.5 821.5 L396.7 824.5 L396.9 827.5 L397.1 830.5 L397.4 833.5 L397.6 836.5 L397.8 839.5 L398.1 842.5 L398.3 845.5 L398.5 848.5 L398.7 851.5 L399.0 854.5 L399.2 857.5 L399.4 860.5 L399.7 863.5 L399.9 866.5 L400.1 869.5 L400.3 872.5 L400.6 875.5 L400.8 878.5 L401.0 881.5 L401.3 884.5 L401.5 887.5 L401.7 890.5 L401.9 893.5 L402.2 896.5 L402.4 899.5 L402.6 902.5 L402.9 905.5 L402.9 905.5 L403.2 908.5 L403.5 911.5 L403.8 914.5 L404.1 917.5 L404.4 920.5 L404.7 923.5 L404.8 924.7 L404.8 925.8 L404.7 926.9 L404.5 928.0 L404.3 929.1 L404.0 930.2 L403.6 931.3 L403.1 932.3 L402.6 933.4 L402.0 934.3 L401.3 935.3 L400.6 936.1 L399.8 937.0 L398.9 937.7 L398.0 938.4 L397.0 939.0 L396.0 939.6 L393.3 940.9 L390.6 942.3 L387.9 943.7 L385.2 945.0 L382.6 946.4 L379.9 947.7 L377.2 949.1 L374.5 950.4 L371.8 951.8 L369.1 953.2 L366.4 954.5 L363.8 955.9 L361.1 957.2 L358.4 958.6 L355.7 960.0 L353.0 961.3 L350.3 962.7 L347.6 964.0 L345.0 965.4 L342.3 966.8 L339.6 968.1 L336.9 969.5 L334.2 970.8 L331.5 972.2 L328.9 973.6 L326.2 974.9 L323.5 976.3 Z" fill="#303030"/>
<!-- bar -->
<path d="M96.8 904.2 L415.8 759 L419.4 805.5 L98.3 956.6 Z" fill="url(#barg)"/>
<path d="M99.5 955.6 L419.3 804.5 L419.4 805.5 L98.3 956.6 Z" fill="#2a2a2a"/>
<!-- holes -->
<ellipse cx="375.5" cy="801.5" rx="12.6" ry="15.8" fill="#2b2b2b"/>
<ellipse cx="369.2" cy="801.5" rx="6.6" ry="15.4" fill="#fff" transform="rotate(6 369.2 801.5)" clip-path="url(#hR)"/>
<ellipse cx="149.1" cy="908.6" rx="11.6" ry="16.6" fill="#2b2b2b"/>
<ellipse cx="144.8" cy="908.6" rx="6.8" ry="15" fill="#fff" transform="rotate(6 144.8 908.6)" clip-path="url(#hL)"/>
<!-- back rod + hook -->
<path d="M316.0 996.9 C330.0 1001.0 352.7 1007.7 400.0 1021.8 C447.3 1035.9 516.7 1056.0 600.0 1081.4 C683.3 1106.9 803.3 1143.8 900.0 1174.5 C996.7 1205.2 1120.0 1246.4 1180.0 1265.9 C1240.0 1285.4 1240.8 1285.5 1260.0 1291.5 C1279.2 1297.5 1286.7 1299.5 1295.0 1301.9 C1303.3 1304.3 1307.5 1305.3 1310.0 1306.0" fill="none" stroke="#1b1b1b" stroke-width="21.5" stroke-linecap="round"/>
<path d="M1371.1 1222.2 L1371.1 1299.6 A26.0 26.0 0 0 1 1338.3 1324.7 L1290.0 1311.7 L1290.0 1289.4 L1340.4 1303.0 A6.0 6.0 0 0 0 1348.0 1297.2 L1348.0 1222.2 Q1348.0 1218.3 1352.5 1218.0 Q1359.5 1217.1 1366.6 1218.0 Q1371.1 1218.3 1371.1 1222.2 Z" fill="#1b1b1b"/>
<path d="M317.2 993.1 C331.2 997.2 353.9 1003.9 401.2 1018.0 C448.5 1032.1 517.9 1052.2 601.2 1077.6 C684.5 1103.1 804.5 1140.0 901.2 1170.7 C997.9 1201.5 1121.2 1242.6 1181.2 1262.1 C1241.2 1281.6 1242.0 1281.7 1261.2 1287.7 C1280.4 1293.7 1284.2 1295.3 1296.2 1298.1 C1308.2 1300.9 1327.0 1303.6 1333.2 1304.7" fill="none" stroke="#3a3a3a" stroke-width="6.5"/>
<path d="M314.0 1003.2 C328.0 1007.3 350.7 1014.0 398.0 1028.1 C445.3 1042.2 514.7 1062.2 598.0 1087.7 C681.3 1113.2 801.3 1150.0 898.0 1180.8 C994.7 1211.5 1118.0 1252.7 1178.0 1272.2 C1238.0 1291.7 1238.8 1291.8 1258.0 1297.8 C1277.2 1303.8 1280.0 1304.5 1293.0 1308.2 C1306.0 1311.9 1328.8 1317.9 1336.0 1319.8" fill="none" stroke="#2b2b2b" stroke-width="3.5"/>
<path d="M1353.5 1226 L1353.5 1290" fill="none" stroke="#303030" stroke-width="5" stroke-linecap="round"/>
<ellipse cx="1359.6" cy="1221.2" rx="9.2" ry="2.4" fill="#2e2e2e"/>
<!-- front rod + hook -->
<path d="M224.0 1038.8 C243.3 1044.7 310.7 1065.1 340.0 1073.9 C369.3 1082.7 356.7 1078.3 400.0 1091.4 C443.3 1104.5 516.7 1126.6 600.0 1152.5 C683.3 1178.4 803.3 1215.8 900.0 1246.8 C996.7 1277.8 1123.3 1319.9 1180.0 1338.2 C1236.7 1356.5 1228.3 1353.0 1240.0 1356.5 C1251.7 1360.0 1248.3 1358.5 1250.0 1358.9" fill="none" stroke="#1b1b1b" stroke-width="21.5" stroke-linecap="round"/>
<path d="M1292.7 1268.8 L1292.7 1347.1 A26.0 26.0 0 0 1 1260.7 1372.4 L1235.0 1366.4 L1235.0 1344.3 L1261.9 1350.6 A6.0 6.0 0 0 0 1269.3 1344.8 L1269.3 1268.8 Q1269.3 1264.9 1273.8 1264.6 Q1281.0 1263.7 1288.2 1264.6 Q1292.7 1264.9 1292.7 1268.8 Z" fill="#1b1b1b"/>
<path d="M225.2 1035.0 C244.5 1040.8 311.9 1061.3 341.2 1070.1 C370.5 1078.9 357.9 1074.5 401.2 1087.6 C444.5 1100.7 517.9 1122.8 601.2 1148.7 C684.5 1174.6 804.5 1212.0 901.2 1243.0 C997.9 1274.0 1124.5 1316.1 1181.2 1334.4 C1237.9 1352.7 1228.9 1349.7 1241.2 1352.7 C1253.5 1355.8 1252.9 1352.7 1255.2 1352.7" fill="none" stroke="#3a3a3a" stroke-width="6.5"/>
<path d="M222.0 1045.1 C241.3 1050.9 308.7 1071.4 338.0 1080.2 C367.3 1089.0 354.7 1084.6 398.0 1097.7 C441.3 1110.8 514.7 1132.9 598.0 1158.8 C681.3 1184.7 801.3 1222.1 898.0 1253.1 C994.7 1284.0 1121.3 1326.2 1178.0 1344.5 C1234.7 1362.8 1224.7 1358.9 1238.0 1362.8 C1251.3 1366.7 1254.7 1367.0 1258.0 1367.8" fill="none" stroke="#2b2b2b" stroke-width="3.5"/>
<path d="M1274.5 1272 L1274.5 1336" fill="none" stroke="#303030" stroke-width="5" stroke-linecap="round"/>
<ellipse cx="1281" cy="1267.8" rx="9.4" ry="2.4" fill="#2e2e2e"/>
<path d="M1268.8 1289 L1268.8 1313" fill="none" stroke="#e2e2e2" stroke-width="1.4"/>
</g>
</svg>
</body></html>
